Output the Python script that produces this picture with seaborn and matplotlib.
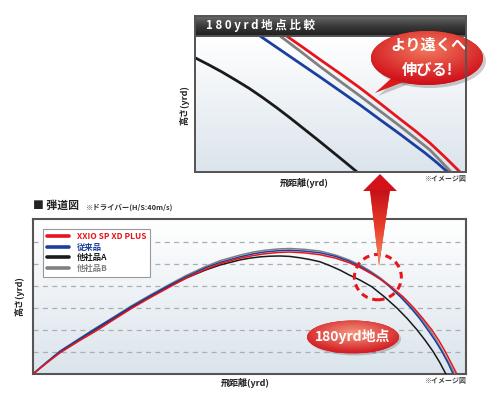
import numpy as np
import matplotlib
matplotlib.use('Agg')
import matplotlib.pyplot as plt
import seaborn as sns
from matplotlib.patches import Ellipse, Polygon, Rectangle
from matplotlib.colors import LinearSegmentedColormap

# main chart: carry distance (yd) vs height (yd)
red_x = [0, 7, 14.1, 24, 33.4, 42, 51.1, 61, 71.5, 80, 89.7, 98, 108, 115, 121, 128, 134, 142, 149.7, 158,
         165.4, 171, 176.9, 182, 187.8, 193.5, 198.8, 203.5, 208.2, 211.7, 214.9, 218, 221.2]
red_y = [0, 2.45, 4.8, 7.5, 9.9, 12.3, 14.8, 17.3, 19.8, 21.8, 23.7, 25.1, 26.3, 26.9, 27.3, 27.6, 27.7, 27.5,
         27.1, 26.3, 25.2, 24.1, 22.7, 21.3, 19.5, 17.4, 15.0, 12.6, 10.0, 7.7, 5.3, 2.7, 0]
blue_x = [0, 7, 14, 24, 33, 42, 51, 61, 71, 80, 90, 98, 108, 115, 121, 128, 134, 142, 150, 158, 165, 171,
          176, 181, 186.2, 191.8, 197.2, 201.8, 206.1, 209.9, 213.4, 216.5, 219.3]
blue_y = [0, 2.6, 5.1, 7.9, 10.4, 12.8, 15.2, 17.7, 20.1, 22.1, 24.1, 25.4, 26.6, 27.3, 27.7, 28.0, 28.1, 27.9,
          27.5, 26.7, 25.6, 24.4, 23.1, 21.7, 19.8, 17.5, 15.0, 12.6, 10.0, 7.6, 5.1, 2.6, 0]
black_x = [0, 7, 14, 24, 33, 42, 51, 61, 71, 80, 90, 98, 108, 113, 118.5, 123.5, 128.9, 134, 139.3, 144.5,
           149.7, 155, 160.2, 165, 170.8, 176.9, 183.5, 189.9, 195.3, 200.3, 204.6, 208.7, 212.2, 215.5]
black_y = [0, 2.55, 5.0, 7.8, 10.2, 12.6, 15.0, 17.5, 19.9, 21.8, 23.6, 24.8, 25.9, 26.3, 26.6, 26.75, 26.8,
           26.7, 26.4, 26.0, 25.5, 24.6, 23.6, 22.5, 21.3, 19.8, 17.5, 15.0, 12.6, 10.1, 7.7, 5.2, 2.7, 0]
gray_x = [0, 7, 14, 24, 33, 42, 51, 61, 71, 80, 90, 98, 108, 115, 121, 128, 134, 142, 150, 158, 165, 171,
          176, 181, 186.8, 192.4, 197.8, 202.6, 207.1, 210.6, 213.9, 217, 220.1]
gray_y = [0, 2.65, 5.2, 8.0, 10.5, 12.9, 15.4, 17.9, 20.3, 22.4, 24.4, 25.8, 27.0, 27.7, 28.1, 28.4, 28.5, 28.3,
          27.9, 27.0, 25.9, 24.7, 23.4, 21.9, 19.9, 17.5, 15.0, 12.6, 10.0, 7.6, 5.1, 2.6, 0]

# inset (zoom around the 180 yd point), relative units 0-100
in_red_x = [33.8, 40, 46.1, 53.5, 60.9, 68.2, 75.6, 81.2, 86.7, 92.2, 97.8]
in_red_y = [100, 91.4, 82.7, 72.4, 61.8, 50.6, 39.0, 30.4, 21.3, 11.0, 0]
in_gray_x = [31.4, 38.8, 46.1, 53.5, 60.9, 68.2, 75.6, 81.2, 86.7, 90.6, 94.5]
in_gray_y = [100, 88.9, 77.6, 66.7, 55.9, 44.9, 33.8, 25.0, 16.2, 8.2, 0]
in_blue_x = [24.0, 35.0, 46.1, 53.5, 60.9, 68.2, 75.6, 80.2, 84.9, 89.2, 93.2]
in_blue_y = [100, 85.0, 69.9, 59.6, 49.3, 38.6, 27.9, 21.0, 14.0, 7.0, 0]
in_black_x = [0, 5, 10, 15, 20, 25, 30, 35, 40, 45, 50, 55, 59.8]
in_black_y = [84, 78.9, 73.5, 67.6, 61.5, 54.7, 47.5, 39.9, 32, 24.1, 16, 7.9, 0]

labels = ['XXIO SP XD PLUS', '従来品', '他社品A', '他社品B']
colors = ['#e8141c', '#1a3fa0', '#1a1a1a', '#808080']
grid_levels = [5, 10, 15, 20, 25, 30]
XMAX, YMAX = 226, 35.2
POINT_X, POINT_Y = 180, 22.0

sns.set_style('white')
plt.rcParams['font.family'] = ['Noto Sans CJK JP', 'DejaVu Sans']
plt.rcParams['font.weight'] = 'bold'

W, H = 500, 397
fig = plt.figure(figsize=(5, 3.97), dpi=100)
fig.patch.set_facecolor('white')


def box(l, t, r, b):
    return [l / W, 1 - b / H, (r - l) / W, (b - t) / H]


bg = LinearSegmentedColormap.from_list('bg', ['#ffffff', '#dbe4ec'])
grad = np.linspace(0, 1, 200).reshape(-1, 1)

# ---------- main chart ----------
ax = fig.add_axes(box(33, 219, 466, 374))
ax.imshow(grad, cmap=bg, extent=[0, XMAX, 0, YMAX], origin='upper', aspect='auto', zorder=0)
for g in grid_levels:
    ax.axhline(g, color='#a9aeb3', lw=0.9, ls=(0, (4, 3.5)), zorder=1)

series = [(red_x, red_y), (blue_x, blue_y), (black_x, black_y), (gray_x, gray_y)]
zorders = [6, 5, 3, 4]
for (xs, ys), c, lab, z in zip(series, colors, labels, zorders):
    sns.lineplot(x=xs, y=ys, ax=ax, color=c, lw=1.1, label=lab, sort=False,
                 estimator=None, zorder=z)

ax.add_patch(Ellipse((POINT_X, POINT_Y), 24.5, 10.3, fill=False, ec='#e5161e',
                     lw=2.2, ls=(0, (2.2, 1.6)), zorder=7))

ax.set_xlim(0, XMAX)
ax.set_ylim(0, YMAX)
ax.set_xticks([])
ax.set_yticks([])
ax.set_xlabel('')
ax.set_ylabel('')
for s in ax.spines.values():
    s.set_color('#555555')
    s.set_linewidth(1.5)

leg = ax.legend(loc='upper left', bbox_to_anchor=(0.014, 0.965),
                frameon=True, fancybox=False, edgecolor='#9a9a9a', framealpha=1,
                handlelength=2.6, handletextpad=1.0, labelspacing=0.18,
                borderpad=0.45, prop={'weight': 'bold', 'size': 6})
leg.get_frame().set_linewidth(0.8)
for t, c in zip(leg.get_texts(), colors):
    t.set_color(c)
for h in leg.legend_handles:
    h.set_linewidth(2.6)

# ---------- inset ----------
ax2 = fig.add_axes(box(195, 36, 466, 172))
ax2.imshow(grad, cmap=bg, extent=[0, 100, 0, 100], origin='upper', aspect='auto', zorder=0)
inset = [(in_red_x, in_red_y), (in_blue_x, in_blue_y), (in_black_x, in_black_y), (in_gray_x, in_gray_y)]
for (xs, ys), c, z in zip(inset, colors, zorders):
    sns.lineplot(x=xs, y=ys, ax=ax2, color=c, lw=2.0, sort=False, estimator=None, zorder=z)
ax2.set_xlim(0, 100)
ax2.set_ylim(0, 100)
ax2.set_xticks([])
ax2.set_yticks([])
for s in ax2.spines.values():
    s.set_color('#555555')
    s.set_linewidth(1.3)

# title bar of inset
axt = fig.add_axes(box(195, 16, 466, 36))
tb = LinearSegmentedColormap.from_list('tb', ['#6a6a6a', '#3a3a3a', '#1e1e1e'])
axt.imshow(grad, cmap=tb, extent=[0, 1, 0, 1], origin='upper', aspect='auto')
axt.set_xticks([])
axt.set_yticks([])
for s in axt.spines.values():
    s.set_color('#555555')
    s.set_linewidth(1.3)
axt.text(0.04, 0.5, '1 8 0 y r d 地 点 比 較', color='white', fontsize=8.3,
         fontweight='bold', va='center', ha='left', transform=axt.transAxes)

# ---------- overlay for callouts / text (pixel coords) ----------
ov = fig.add_axes([0, 0, 1, 1])
ov.set_xlim(0, W)
ov.set_ylim(H, 0)
ov.axis('off')


def radial(cx, cy, w, h, c_in, c_out, clip, z, oy=-0.35):
    yy, xx = np.mgrid[-1:1:120j, -1:1:120j]
    r = np.sqrt(xx ** 2 + (yy - oy) ** 2)
    cm = LinearSegmentedColormap.from_list('r', [c_in, c_out])
    im = ov.imshow(r, cmap=cm, vmin=0, vmax=1.3, origin='upper', aspect='auto',
                   extent=(cx - w / 2, cx + w / 2, cy + h / 2, cy - h / 2), zorder=z)
    im.set_clip_path(clip)


# big arrow from 180 yd point to inset
head = Polygon([(363, 191), (380, 174), (397, 191)], closed=True, fc='#d4121a', ec='none', zorder=5)
shaft = Polygon([(370, 190), (390, 190), (379, 266)], closed=True, fc='#e03a20', ec='none', zorder=5)
ov.add_patch(head)
ov.add_patch(shaft)
ag = LinearSegmentedColormap.from_list('ag', ['#c40f18', '#e8402a', '#f59a70'])
im = ov.imshow(grad, cmap=ag, origin='upper', aspect='auto', extent=(368, 392, 267, 189), zorder=6)
im.set_clip_path(shaft)

# speech bubble
ov.add_patch(Ellipse((430, 61), 112, 54, fc='#00000033', ec='none', zorder=7))
ov.add_patch(Polygon([(398, 78), (378, 96), (414, 82)], closed=True, fc='#00000033', ec='none', zorder=7))
tail = Polygon([(395, 75), (375, 93), (411, 79)], closed=True, fc='#dc1a1c', ec='none', zorder=8)
ov.add_patch(tail)
bub = Ellipse((427, 58), 112, 54, fc='#dc1a1c', ec='none', zorder=8)
ov.add_patch(bub)
radial(427, 58, 112, 54, '#f27a5e', '#d0101a', bub, 9)
ov.text(428, 45, 'より遠くへ', color='white', fontsize=11, fontweight='bold',
        ha='center', va='center', zorder=10)
ov.text(428, 70, '伸びる!', color='white', fontsize=11, fontweight='bold',
        ha='center', va='center', zorder=10)

# 180yrd label
ov.add_patch(Ellipse((355, 339), 92, 33, fc='#00000030', ec='none', zorder=7))
lab = Ellipse((353, 337), 92, 33, fc='#dc1a1c', ec='none', zorder=8)
ov.add_patch(lab)
radial(353, 337, 92, 33, '#f49a80', '#d0101a', lab, 9, oy=-0.2)
ov.text(353, 337, '180yrd地点', color='white', fontsize=10, fontweight='bold',
        ha='center', va='center', zorder=10)

# outer frame of inset block
ov.add_patch(Rectangle((195, 16), 271, 156, fill=False, ec='#555555', lw=1.3, zorder=11))

# texts
ov.text(33, 206, '■ 弾道図', fontsize=7.8, fontweight='bold', ha='left', va='center', color='#222222')
ov.text(86, 207, '※ドライバー(H/S:40m/s)', fontsize=5.3, fontweight='bold', ha='left', va='center', color='#333333')
ov.text(19, 296, '高さ(yrd)', fontsize=6.5, fontweight='bold', rotation=90, ha='center', va='center', color='#222222')
ov.text(245, 383, '飛距離(yrd)', fontsize=6.5, fontweight='bold', ha='center', va='center', color='#222222')
ov.text(466, 380, '※イメージ図', fontsize=5, fontweight='bold', ha='right', va='center', color='#444444')
ov.text(184, 105, '高さ(yrd)', fontsize=6.5, fontweight='bold', rotation=90, ha='center', va='center', color='#222222')
ov.text(304, 183, '飛距離(yrd)', fontsize=6.5, fontweight='bold', ha='center', va='center', color='#222222')
ov.text(466, 179, '※イメージ図', fontsize=5, fontweight='bold', ha='right', va='center', color='#444444')

fig.savefig('out.png', dpi=100)
